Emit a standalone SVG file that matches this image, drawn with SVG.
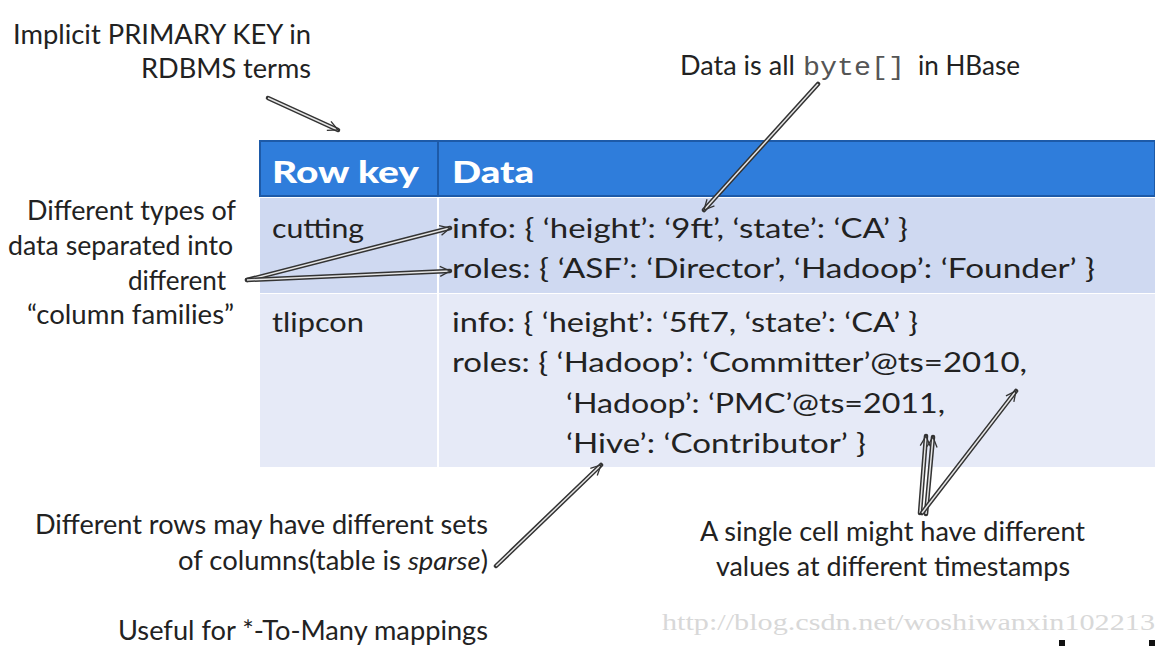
<svg xmlns="http://www.w3.org/2000/svg" width="1155" height="648" viewBox="0 0 1155 648">
<defs>
<style>
.t{font-family:Lato,"Open Sans","DejaVu Sans",sans-serif;fill:#222;font-size:26px}
.b{font-family:Lato,"Open Sans","DejaVu Sans",sans-serif;fill:#222;font-size:27px}
.h{font-family:Lato,"Open Sans","DejaVu Sans",sans-serif;fill:#fff;font-size:31px;font-weight:900}
.m{font-family:"Liberation Mono","Courier New",monospace;fill:#555;font-size:26px}
.w{font-family:"Liberation Serif","DejaVu Serif",serif;fill:#d8d8d8;font-size:23px}
.ao{fill:none;stroke:#333;stroke-width:4.5;stroke-linecap:round}
.ai{fill:none;stroke:#e6e6e6;stroke-width:1.5}
</style>
<marker id="hd" viewBox="0 0 12 12" refX="11" refY="6" markerWidth="12" markerHeight="12" markerUnits="userSpaceOnUse" orient="auto">
<path d="M1,1 L11,6 L1,11" fill="none" stroke="#333" stroke-width="1.3"/>
</marker>
</defs>
<rect width="1155" height="648" fill="#fff"/>
<g id="table">
<rect x="260" y="141" width="895" height="55" fill="#2f7ddb" stroke="#1d5aa8" stroke-width="2"/>
<rect x="260" y="198" width="895" height="95" fill="#cfd9f1"/>
<rect x="260" y="294" width="895" height="173" fill="#e6eaf7"/>
<line x1="438" y1="141" x2="438" y2="196" stroke="#1d5aa8" stroke-width="2"/>
<line x1="438" y1="198" x2="438" y2="467" stroke="#fff" stroke-width="2"/>
<text class="h" x="272" y="183" textLength="147" lengthAdjust="spacingAndGlyphs">Row key</text>
<text class="h" x="452" y="183" textLength="82" lengthAdjust="spacingAndGlyphs">Data</text>
</g>
<g id="row-cutting">
<text class="b" x="272" y="238" textLength="92" lengthAdjust="spacingAndGlyphs">cutting</text>
<text class="b" x="452" y="238" textLength="456" lengthAdjust="spacingAndGlyphs">info: { ‘height’: ‘9ft’, ‘state’: ‘CA’ }</text>
<text class="b" x="452" y="278" textLength="643" lengthAdjust="spacingAndGlyphs">roles: { ‘ASF’: ‘Director’, ‘Hadoop’: ‘Founder’ }</text>
</g>
<g id="row-tlipcon">
<text class="b" x="272" y="332" textLength="92" lengthAdjust="spacingAndGlyphs">tlipcon</text>
<text class="b" x="452" y="332" textLength="466" lengthAdjust="spacingAndGlyphs">info: { ‘height’: ‘5ft7, ‘state’: ‘CA’ }</text>
<text class="b" x="452" y="372" textLength="575" lengthAdjust="spacingAndGlyphs">roles: { ‘Hadoop’: ‘Committer’@ts=2010,</text>
<text class="b" x="566" y="413" textLength="379" lengthAdjust="spacingAndGlyphs">‘Hadoop’: ‘PMC’@ts=2011,</text>
<text class="b" x="566" y="453" textLength="300" lengthAdjust="spacingAndGlyphs">‘Hive’: ‘Contributor’ }</text>
</g>
<g id="note-primary-key">
<text class="t" x="13" y="44" textLength="298" lengthAdjust="spacingAndGlyphs">Implicit PRIMARY KEY in</text>
<text class="t" x="141" y="78" textLength="170" lengthAdjust="spacingAndGlyphs">RDBMS terms</text>
</g>
<g id="note-bytes">
<text class="t" x="680" y="75" textLength="115" lengthAdjust="spacingAndGlyphs">Data is all</text>
<text class="m" x="803" y="75" textLength="102" lengthAdjust="spacingAndGlyphs">byte[]</text>
<text class="t" x="918" y="75" textLength="102" lengthAdjust="spacingAndGlyphs">in HBase</text>
</g>
<g id="note-column-families">
<text class="t" x="27" y="220" textLength="209" lengthAdjust="spacingAndGlyphs">Different types of</text>
<text class="t" x="8" y="255" textLength="225" lengthAdjust="spacingAndGlyphs">data separated into</text>
<text class="t" x="128" y="290" textLength="98" lengthAdjust="spacingAndGlyphs">different</text>
<text class="t" x="27" y="324" textLength="207" lengthAdjust="spacingAndGlyphs">“column families”</text>
</g>
<g id="note-sparse">
<text class="t" x="35" y="534" textLength="453" lengthAdjust="spacingAndGlyphs">Different rows may have different sets</text>
<text class="t" x="178" y="570" textLength="310" lengthAdjust="spacingAndGlyphs">of columns(table is <tspan font-style="italic">sparse</tspan>)</text>
</g>
<g id="note-timestamps">
<text class="t" x="700" y="541" textLength="385" lengthAdjust="spacingAndGlyphs">A single cell might have different</text>
<text class="t" x="716" y="576" textLength="354" lengthAdjust="spacingAndGlyphs">values at different timestamps</text>
</g>
<g id="note-mappings">
<text class="t" x="118" y="640" textLength="370" lengthAdjust="spacingAndGlyphs">Useful for *-To-Many mappings</text>
</g>
<g id="connectors">
<path class="ao" d="M268,98 L338,130"/><path class="ai" d="M268,98 L338,130" marker-end="url(#hd)"/>
<path class="ao" d="M818,84 L704,210"/><path class="ai" d="M818,84 L704,210" marker-end="url(#hd)"/>
<path class="ao" d="M247,280 L450,228"/><path class="ai" d="M247,280 L450,228" marker-end="url(#hd)"/>
<path class="ao" d="M247,280 L450,271"/><path class="ai" d="M247,280 L450,271" marker-end="url(#hd)"/>
<path class="ao" d="M496,566 L601,465"/><path class="ai" d="M496,566 L601,465" marker-end="url(#hd)"/>
<path class="ao" d="M920,513 L926,436"/><path class="ai" d="M920,513 L926,436" marker-end="url(#hd)"/>
<path class="ao" d="M926,514 L933,437"/><path class="ai" d="M926,514 L933,437" marker-end="url(#hd)"/>
<path class="ao" d="M922,513 L1016,391"/><path class="ai" d="M922,513 L1016,391" marker-end="url(#hd)"/>
</g>
<text class="w" x="662" y="630" textLength="493" lengthAdjust="spacingAndGlyphs">http://blog.csdn.net/woshiwanxin102213</text>
<rect x="1059" y="640" width="6" height="6" fill="#111"/>
<rect x="1149" y="640" width="6" height="6" fill="#111"/>
</svg>
